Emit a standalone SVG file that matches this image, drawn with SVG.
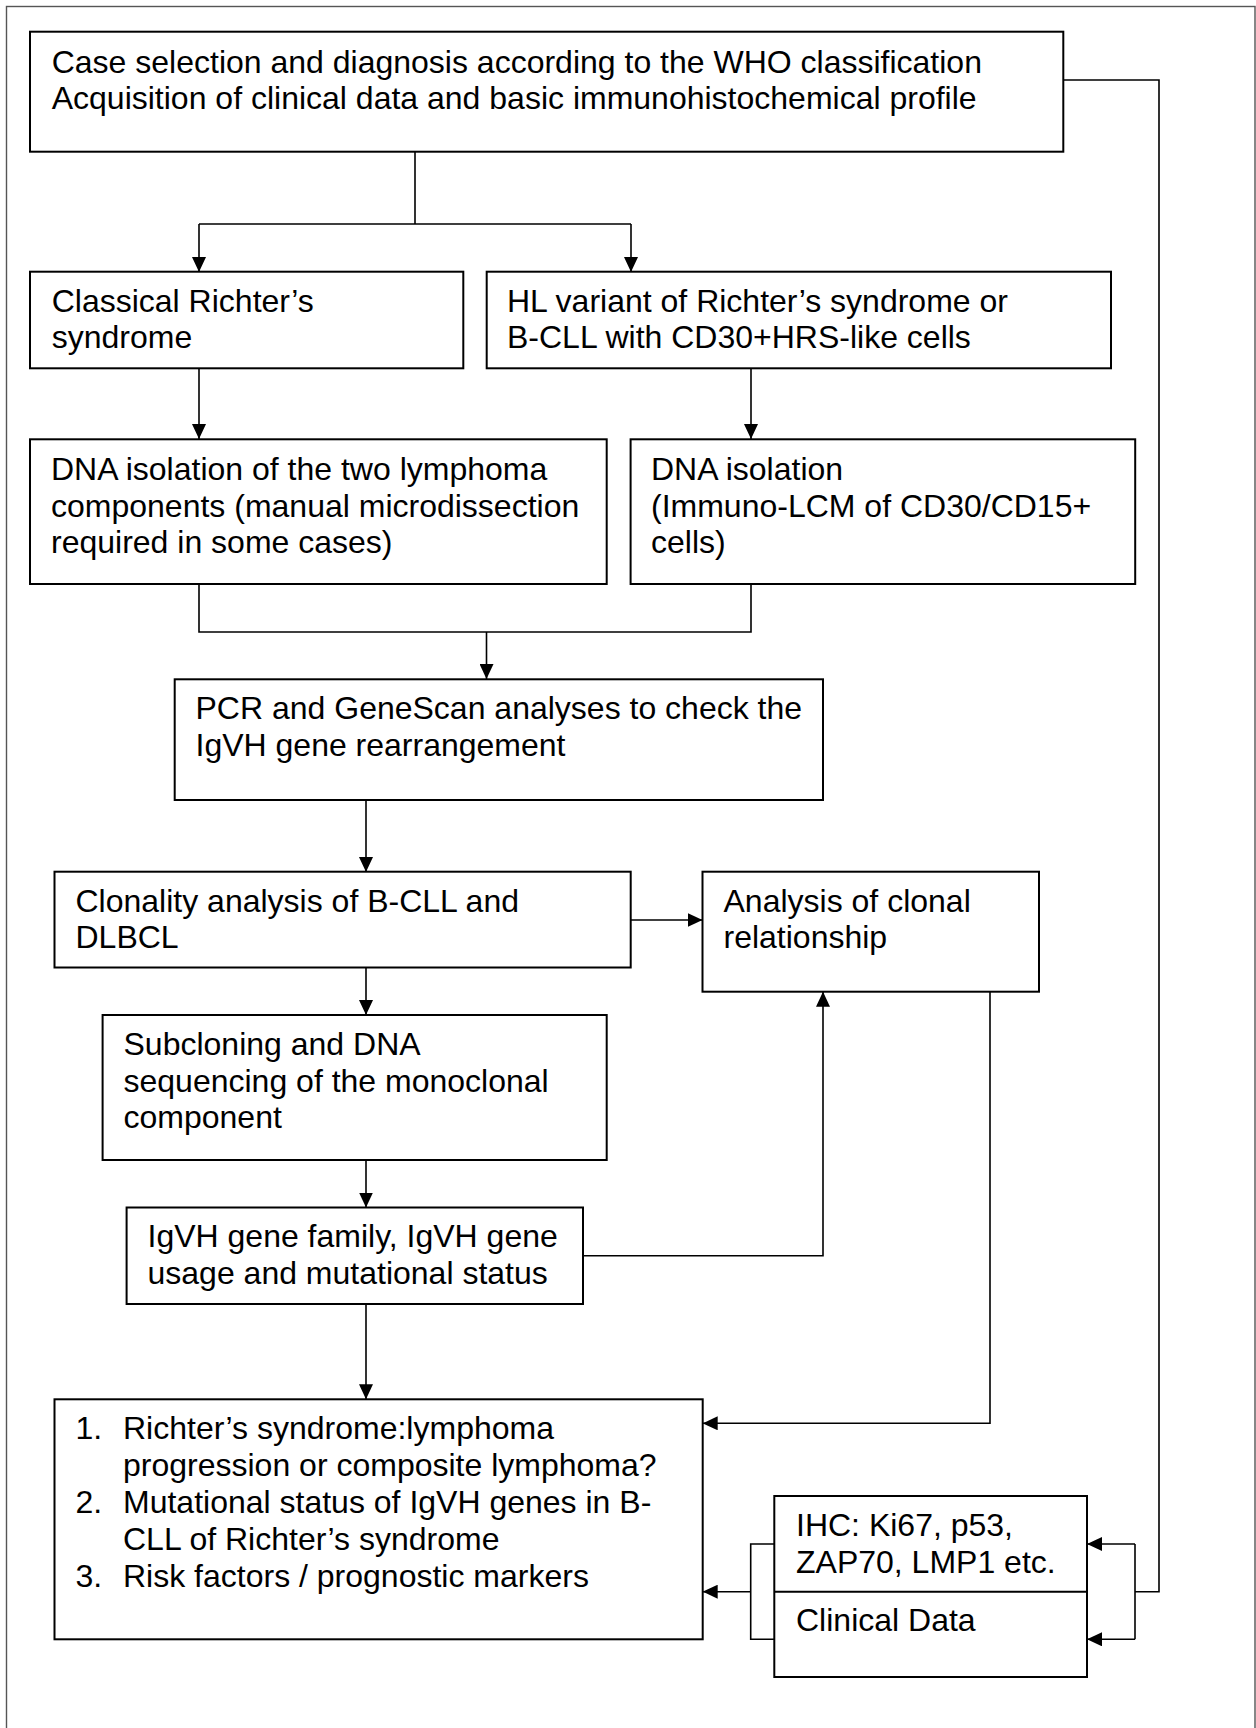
<svg xmlns="http://www.w3.org/2000/svg" width="1256" height="1728" viewBox="0 0 1256 1728">
<defs>
<marker id="arr" markerUnits="userSpaceOnUse" markerWidth="15" markerHeight="14" refX="15" refY="7" orient="auto">
<path d="M0,0 L15,7 L0,14 z" fill="#000"/>
</marker>
<style>
.box{fill:#fff;stroke:#000;stroke-width:2}
.t{font-family:"Liberation Sans",Arial,sans-serif;font-size:32px;fill:#000}
.c{fill:none;stroke:#000;stroke-width:1.6}
.a{marker-end:url(#arr)}
</style>
</defs>
<rect x="0" y="0" width="1256" height="1728" fill="#fff"/>
<rect id="frame" x="6.5" y="6.5" width="1248.5" height="1740" fill="none" stroke="#555" stroke-width="1.4"/>

<g id="connectors">
<path class="c" d="M415,152 V224 M199,224 H631"/>
<path class="c a" d="M199,224 V272"/>
<path class="c a" d="M631,224 V272"/>
<path class="c a" d="M199,368 V439"/>
<path class="c a" d="M751,368 V439"/>
<path class="c" d="M199,584 V632 H751 V584"/>
<path class="c a" d="M486.5,632 V679"/>
<path class="c a" d="M366,800 V872"/>
<path class="c a" d="M631,920 H702.5"/>
<path class="c a" d="M366,967.5 V1015"/>
<path class="c a" d="M366,1160 V1207.5"/>
<path class="c a" d="M583,1255.7 H823 V991.7"/>
<path class="c a" d="M366,1304 V1399.3"/>
<path class="c a" d="M990,991.7 V1423.3 H702.7"/>
<path class="c" d="M1063,80 H1159 V1591.7 H1135 M1135,1544 V1639.3"/>
<path class="c a" d="M1135,1544 H1087"/>
<path class="c a" d="M1135,1639.3 H1087"/>
<path class="c" d="M774.3,1544 H750.7 V1639.3 H774.3"/>
<path class="c a" d="M750.7,1591.7 H702.7"/>
</g>

<g id="n-top">
<rect class="box" x="30" y="31.7" width="1033.3" height="120"/>
<text class="t" x="51.7" y="72.7">Case selection and diagnosis according to the WHO classification</text>
<text class="t" x="51.7" y="109.3">Acquisition of clinical data and basic immunohistochemical profile</text>
</g>
<g id="n-classical">
<rect class="box" x="30" y="271.7" width="433.3" height="96.6"/>
<text class="t" x="51.7" y="311.7">Classical Richter’s</text>
<text class="t" x="51.7" y="348.3">syndrome</text>
</g>
<g id="n-hl">
<rect class="box" x="486.7" y="271.7" width="624.3" height="96.6"/>
<text class="t" x="507" y="311.7">HL variant of Richter’s syndrome or</text>
<text class="t" x="507" y="348.3">B-CLL with CD30+HRS-like cells</text>
</g>
<g id="n-dna1">
<rect class="box" x="30" y="439.3" width="576.7" height="144.7"/>
<text class="t" x="51" y="480">DNA isolation of the two lymphoma</text>
<text class="t" x="51" y="516.7">components (manual microdissection</text>
<text class="t" x="51" y="553.3">required in some cases)</text>
</g>
<g id="n-dna2">
<rect class="box" x="630.6" y="439.3" width="504.6" height="144.7"/>
<text class="t" x="651" y="480">DNA isolation</text>
<text class="t" x="651" y="516.7">(Immuno-LCM of CD30/CD15+</text>
<text class="t" x="651" y="553.3">cells)</text>
</g>
<g id="n-pcr">
<rect class="box" x="174.7" y="679.3" width="648.3" height="120.7"/>
<text class="t" x="195.5" y="718.8">PCR and GeneScan analyses to check the</text>
<text class="t" x="195.5" y="755.5">IgVH gene rearrangement</text>
</g>
<g id="n-clonality">
<rect class="box" x="54.5" y="871.7" width="576.2" height="95.8"/>
<text class="t" x="75.5" y="911.7">Clonality analysis of B-CLL and</text>
<text class="t" x="75.5" y="948.3">DLBCL</text>
</g>
<g id="n-analysis">
<rect class="box" x="702.5" y="871.7" width="336.5" height="120"/>
<text class="t" x="723.5" y="911.7">Analysis of clonal</text>
<text class="t" x="723.5" y="948.3">relationship</text>
</g>
<g id="n-subcloning">
<rect class="box" x="102.6" y="1015" width="504.1" height="145"/>
<text class="t" x="123.5" y="1055">Subcloning and DNA</text>
<text class="t" x="123.5" y="1091.7">sequencing of the monoclonal</text>
<text class="t" x="123.5" y="1128.3">component</text>
</g>
<g id="n-igvh">
<rect class="box" x="126.6" y="1207.5" width="456.4" height="96.5"/>
<text class="t" x="147.5" y="1247">IgVH gene family, IgVH gene</text>
<text class="t" x="147.5" y="1283.6">usage and mutational status</text>
</g>
<g id="n-final">
<rect class="box" x="54.5" y="1399.3" width="648.2" height="240"/>
<text class="t" x="75.5" y="1438.5">1.</text>
<text class="t" x="123" y="1438.5">Richter’s syndrome:lymphoma</text>
<text class="t" x="123" y="1475.5">progression or composite lymphoma?</text>
<text class="t" x="75.5" y="1512.5">2.</text>
<text class="t" x="123" y="1512.5">Mutational status of IgVH genes in B-</text>
<text class="t" x="123" y="1549.5">CLL of Richter’s syndrome</text>
<text class="t" x="75.5" y="1586.5">3.</text>
<text class="t" x="123" y="1586.5">Risk factors / prognostic markers</text>
</g>
<g id="n-ihc">
<rect class="box" x="774.3" y="1496" width="312.7" height="181"/>
<line x1="774.3" y1="1591.7" x2="1087" y2="1591.7" stroke="#000" stroke-width="2"/>
<text class="t" x="796" y="1536">IHC: Ki67, p53,</text>
<text class="t" x="796" y="1572.7">ZAP70, LMP1 etc.</text>
<text class="t" x="796" y="1630.7">Clinical Data</text>
</g>
</svg>
